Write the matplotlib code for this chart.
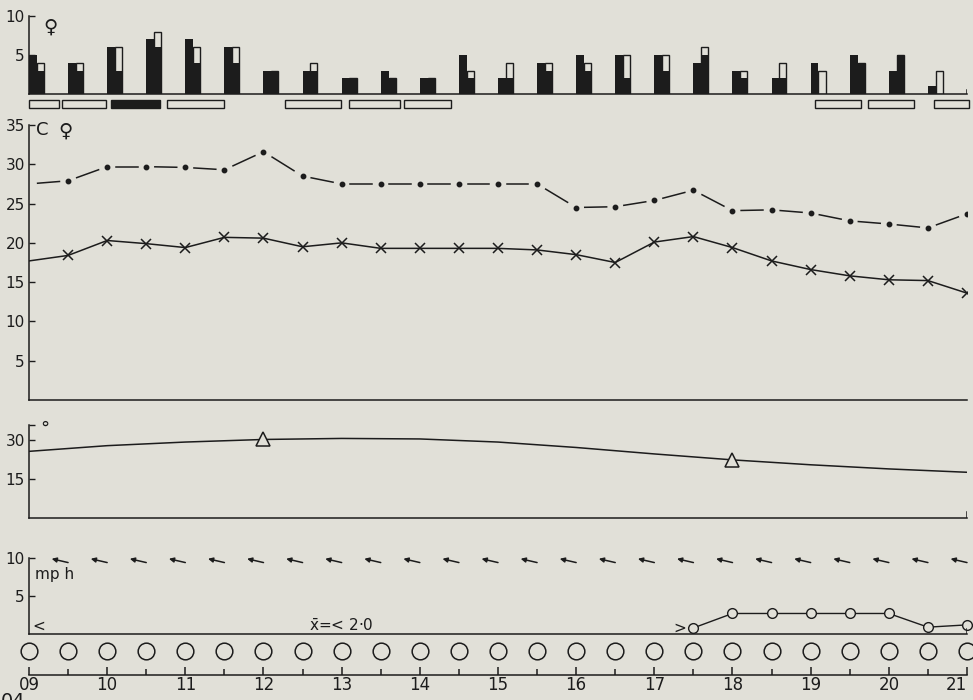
import numpy as np
import matplotlib
matplotlib.use('Agg')
import matplotlib.pyplot as plt
from matplotlib.patches import Rectangle

plt.rcParams['font.family'] = ['DejaVu Sans']
plt.rcParams['font.size'] = 11

paper = '#e1e0d8'
ink = '#1c1c1c'

# observation times (half-hourly, 09:00 .. 21:00)
half_hours = np.arange(9.0, 21.01, 0.5)
hour_labels = ['09', '10', '11', '12', '13', '14', '15', '16', '17', '18', '19', '20', '21']

# counts per half hour (left = solid bar, right = outlined bar with solid part)
count_left = [5, 4, 6, 7, 7, 6, 3, 3, 2, 3, 2, 5, 2, 4, 5, 5, 5, 4, 3, 2, 4, 5, 3, 1]
count_right = [4, 4, 6, 8, 6, 6, 3, 4, 2, 2, 2, 3, 4, 4, 4, 5, 5, 6, 3, 4, 3, 4, 5, 3]
count_right_solid = [3, 3, 3, 6, 4, 4, 3, 3, 2, 2, 2, 2, 2, 3, 3, 2, 3, 5, 2, 2, 0, 4, 5, 0]

# activity periods shown as boxes under the counts
period_start = [9.0, 9.42, 10.05, 10.76, 12.27, 13.1, 13.8, 19.06, 19.73, 20.58]
period_end = [9.38, 9.99, 10.68, 11.5, 12.99, 13.74, 14.4, 19.64, 20.32, 21.03]
period_filled = [False, False, True, False, False, False, False, False, False, False]

# temperatures (C)
temp_upper = [27.5, 27.9, 29.7, 29.7, 29.6, 29.3, 31.6, 28.5, 27.5, 27.5, 27.5, 27.5, 27.5,
              27.5, 24.5, 24.6, 25.4, 26.7, 24.1, 24.2, 23.8, 22.8, 22.4, 21.9, 23.7]
temp_lower = [17.7, 18.4, 20.3, 19.9, 19.4, 20.7, 20.6, 19.5, 20.0, 19.3, 19.3, 19.3, 19.3,
              19.1, 18.5, 17.5, 20.1, 20.8, 19.4, 17.7, 16.6, 15.8, 15.3, 15.2, 13.6]

# angle curve (degrees), hourly
angle_hours = [9, 10, 11, 12, 13, 14, 15, 16, 17, 18, 19, 20, 21]
angle_deg = [25.8, 28.0, 29.4, 30.4, 30.8, 30.6, 29.4, 27.3, 24.8, 22.5, 20.6, 19.0, 17.7]
angle_marked = [12, 18]

# wind: direction arrows every half hour from 09:30, speed (mph) late in the day
arrow_hours = np.arange(9.5, 21.01, 0.5)
arrow_level = 9.5
wind_hours = [17.5, 18.0, 18.5, 19.0, 19.5, 20.0, 20.5, 21.0]
wind_mph = [0.8, 2.7, 2.7, 2.7, 2.7, 2.7, 0.9, 1.2]

fig = plt.figure(figsize=(9.73, 7.0), dpi=100, facecolor=paper)

L, W = 29 / 973, 938 / 973


def panel(top_px, bottom_px):
    ax = fig.add_axes([L, 1 - bottom_px / 700, W, (bottom_px - top_px) / 700])
    ax.set_facecolor('none')
    for s in ['top', 'right']:
        ax.spines[s].set_visible(False)
    for s in ['left', 'bottom']:
        ax.spines[s].set_color(ink)
        ax.spines[s].set_linewidth(1.1)
    ax.set_xlim(9, 21)
    ax.tick_params(axis='x', length=0, labelbottom=False)
    ax.tick_params(axis='y', direction='in', length=4, width=1.0, color=ink,
                   labelcolor=ink, labelsize=11, pad=3)
    return ax


# ---- counts
ax1 = panel(16, 94)
ax1.set_ylim(0, 10)
ax1.set_yticks([5, 10])
t_bars = half_hours[:-1]
ax1.bar(t_bars, count_left, width=0.1, align='edge', color=ink, linewidth=0)
ax1.bar(t_bars + 0.1, count_right, width=0.09, align='edge', facecolor=paper,
        edgecolor=ink, linewidth=1.0)
ax1.bar(t_bars + 0.1, count_right_solid, width=0.09, align='edge', color=ink, linewidth=0)
ax1.axvline(21, ymax=0.05, color=ink, lw=1.1)
ax1.text(9.27, 8.6, '♀', fontsize=14, color=ink, ha='center', va='center')

# ---- activity boxes
axp = fig.add_axes([L, 1 - 109 / 700, W, 10 / 700])
axp.set_xlim(9, 21)
axp.set_ylim(0, 1)
axp.axis('off')
for s, e, f in zip(period_start, period_end, period_filled):
    axp.add_patch(Rectangle((s, 0.1), e - s, 0.8, facecolor=ink if f else paper,
                            edgecolor=ink, linewidth=1.0, clip_on=False))

# ---- temperatures
ax2 = panel(125, 400)
ax2.set_ylim(0, 35)
ax2.set_yticks([5, 10, 15, 20, 25, 30, 35])
up = np.array(temp_upper)
for i in range(len(half_hours) - 1):
    x0, x1 = half_hours[i], half_hours[i + 1]
    y0, y1 = up[i], up[i + 1]
    a, b = 0.22, 0.78
    ax2.plot([x0 + a * (x1 - x0), x0 + b * (x1 - x0)],
             [y0 + a * (y1 - y0), y0 + b * (y1 - y0)], color=ink, lw=1.1)
ax2.plot(half_hours[1:], temp_upper[1:], ls='none', marker='o', ms=3.2, color=ink)
ax2.plot(half_hours, temp_lower, color=ink, lw=1.1, marker='x', ms=7, mew=1.1,
         markevery=list(range(1, len(half_hours))))
ax2.text(9.17, 34.4, 'C', fontsize=13, color=ink, ha='center', va='center')
ax2.text(9.47, 34.2, '♀', fontsize=14, color=ink, ha='center', va='center')

# ---- angle
ax3 = panel(425, 518)
ax3.set_ylim(0, 36)
ax3.set_yticks([15, 30, 36])
ax3.set_yticklabels(['15', '30', ''])
ax3.plot(angle_hours, angle_deg, color=ink, lw=1.1)
mark_y = [angle_deg[angle_hours.index(h)] for h in angle_marked]
ax3.plot(angle_marked, mark_y, ls='none', marker='^', ms=10, mfc=paper, mec=ink, mew=1.1)
ax3.axvline(21, ymax=0.06, color=ink, lw=1.1)
ax3.text(9.2, 34.5, '°', fontsize=13, color=ink, ha='center', va='center')

# ---- wind
ax4 = panel(558, 634)
ax4.set_ylim(0, 10)
ax4.set_yticks([5, 10])
for t in arrow_hours:
    ax4.annotate('', xy=(t - 0.21, arrow_level + 0.4), xytext=(t, arrow_level - 0.1),
                 arrowprops=dict(arrowstyle='-|>', color=ink, lw=1.1,
                                 mutation_scale=7, shrinkA=0, shrinkB=0))
ax4.plot(wind_hours, wind_mph, color=ink, lw=1.0, marker='o', ms=7,
         mfc=paper, mec=ink, mew=1.0, clip_on=False)
ax4.text(wind_hours[0] - 0.18, wind_mph[0], '>', fontsize=11, color=ink,
         ha='center', va='center')
ax4.text(9.12, 1.0, '<', fontsize=11, color=ink, ha='center', va='center')
ax4.text(13.0, 1.0, r'$\bar{\mathrm{x}}$=< 2·0', fontsize=11, color=ink,
         ha='center', va='center')
ax4.text(9.08, 7.8, 'mp h', fontsize=11, color=ink, ha='left', va='center')
ax4.axvline(21, ymax=0.06, color=ink, lw=1.1)

# ---- circles row and time axis
ax5 = fig.add_axes([L, 1 - 675 / 700, W, 38 / 700])
ax5.set_facecolor('none')
for s in ['top', 'right', 'left']:
    ax5.spines[s].set_visible(False)
ax5.spines['bottom'].set_color(ink)
ax5.spines['bottom'].set_linewidth(1.1)
ax5.set_xlim(9, 21)
ax5.set_ylim(0, 1)
ax5.set_yticks([])
ax5.plot(half_hours, np.full(len(half_hours), 0.63), ls='none', marker='o', ms=12,
         mfc='none', mec=ink, mew=1.1, clip_on=False)
ax5.set_xticks(range(9, 22))
ax5.set_xticklabels(hour_labels)
ax5.set_xticks(half_hours[1::2], minor=True)
ax5.tick_params(axis='x', which='major', direction='in', length=6, width=1.1,
                color=ink, labelcolor=ink, labelsize=12, pad=1)
ax5.tick_params(axis='x', which='minor', direction='in', length=4, width=1.1, color=ink)
ax5.get_xticklabels()[-1].set_horizontalalignment('right')
ax5.get_xticklabels()[-1].set_x(21.06)

fig.text(1 / 973, 1 - 692 / 700, '04', fontsize=14, color=ink, ha='left', va='top')

fig.savefig('out.png', dpi=100, facecolor=paper)
